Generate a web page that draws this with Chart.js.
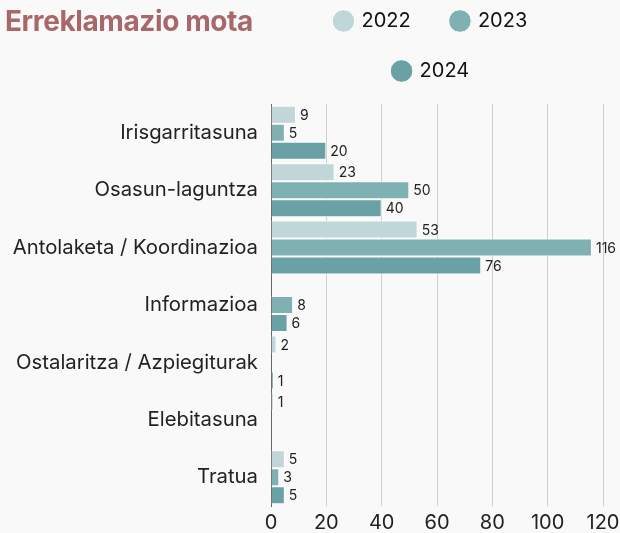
<!DOCTYPE html>
<html>
<head>
<meta charset="utf-8">
<script src="https://cdn.jsdelivr.net/npm/chart.js@4"></script>
<style>
  html, body { margin: 0; padding: 0; background: #f8f9f8; }
  #wrap { position: relative; width: 620px; height: 533px; overflow: hidden; }
  #title {
    position: absolute; left: 5px; top: 4px;
    font: bold 28px Inter, sans-serif; color: #a8686a; letter-spacing: -0.4px;
  }
</style>
</head>
<body>
<div id="wrap">
  <div id="title">Erreklamazio mota</div>
  <canvas id="chart" width="620" height="533"></canvas>
</div>
<script>
const categories = [
  'Irisgarritasuna',
  'Osasun-laguntza',
  'Antolaketa / Koordinazioa',
  'Informazioa',
  'Ostalaritza / Azpiegiturak',
  'Elebitasuna',
  'Tratua'
];
const values2022 = [9, 23, 53, null, 2, 1, 5];
const values2023 = [5, 50, 116, 8, null, null, 3];
const values2024 = [20, 40, 76, 6, 1, null, 5];
const xTicks = [0, 20, 40, 60, 80, 100, 120];

const FONT = 'Inter, sans-serif';

// draws the value next to the end of each bar
const valueLabels = {
  id: 'valueLabels',
  afterDatasetsDraw(chart) {
    const ctx = chart.ctx;
    ctx.save();
    ctx.font = '14px ' + FONT;
    ctx.fillStyle = '#222';
    ctx.textAlign = 'left';
    ctx.textBaseline = 'middle';
    chart.data.datasets.forEach((ds, i) => {
      chart.getDatasetMeta(i).data.forEach((bar, j) => {
        const v = ds.data[j];
        if (v == null) return;
        ctx.fillText(String(v), bar.x + 4, bar.y + 1);
      });
    });
    ctx.restore();
  }
};

// extra room between the legend and the bars
const legendGap = {
  id: 'legendGap',
  beforeInit(chart) {
    const fit = chart.legend.fit;
    chart.legend.fit = function () {
      fit.call(this);
      this.height += 13;
    };
  }
};

const ctx = document.getElementById('chart').getContext('2d');
new Chart(ctx, {
  type: 'bar',
  data: {
    labels: categories,
    datasets: [
      { label: '2022', data: values2022, backgroundColor: '#c0d6d8' },
      { label: '2023', data: values2023, backgroundColor: '#7fb0b2' },
      { label: '2024', data: values2024, backgroundColor: '#69a1a5' }
    ]
  },
  options: {
    indexAxis: 'y',
    responsive: false,
    animation: false,
    datasets: {
      bar: {
        borderColor: '#ffffff',
        borderWidth: 1,
        categoryPercentage: 0.94,
        barPercentage: 1
      }
    },
    layout: { padding: { left: 0, right: 0, bottom: 0, top: -19 } },
    plugins: {
      legend: {
        position: 'top',
        fullSize: false,
        labels: {
          usePointStyle: true,
          pointStyle: 'circle',
          boxWidth: 16,
          boxHeight: 16,
          padding: 30,
          color: '#111',
          font: { family: FONT, size: 20 },
          generateLabels: chart => {
            const items = Chart.defaults.plugins.legend.labels.generateLabels(chart);
            items.forEach(it => { it.text = it.text + '  '; });
            return items;
          }
        }
      },
      tooltip: { enabled: false }
    },
    scales: {
      x: {
        min: 0,
        max: 120,
        afterBuildTicks: axis => { axis.ticks = xTicks.map(v => ({ value: v })); },
        afterFit: axis => { axis.height = 27; axis.paddingRight = 17; },
        grid: { color: '#cfcfcf', drawTicks: false },
        border: { display: false },
        ticks: { color: '#222', padding: 5, font: { family: FONT, size: 20 } }
      },
      y: {
        afterFit: axis => { axis.width = 271; },
        grid: { display: false, drawTicks: false },
        border: { color: '#666', width: 1 },
        ticks: { color: '#222', padding: 13, font: { family: FONT, size: 20.3 } }
      }
    }
  },
  plugins: [valueLabels, legendGap]
});
</script>
</body>
</html>
